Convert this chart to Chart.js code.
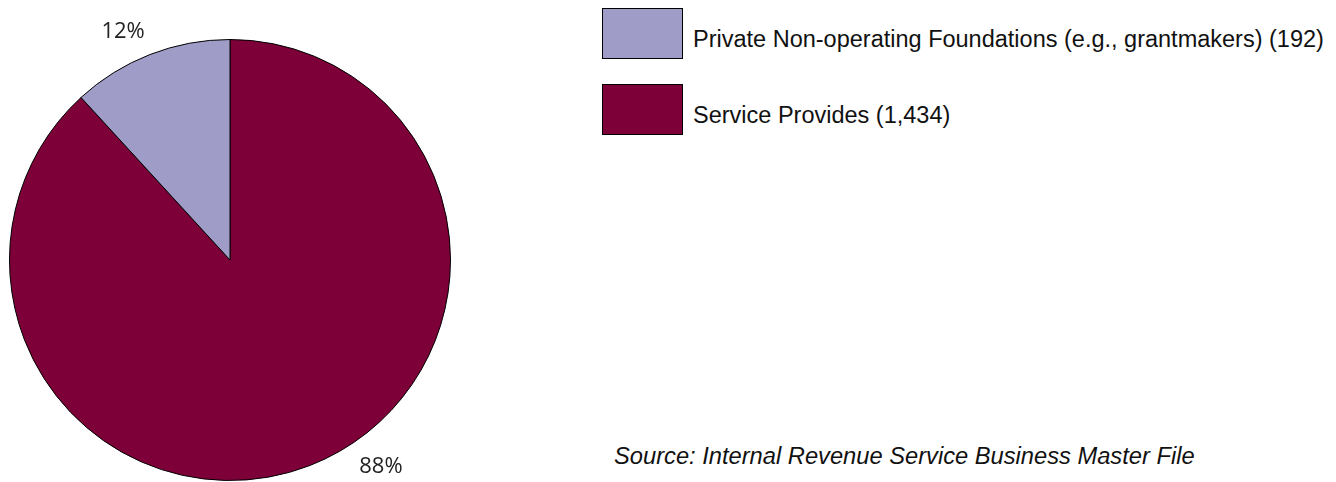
<!DOCTYPE html>
<html>
<head>
<meta charset="utf-8">
<script src="https://cdn.jsdelivr.net/npm/chart.js@4"></script>
<style>
  html, body { margin: 0; padding: 0; background: #fff; }
  body { width: 1336px; height: 482px; position: relative; overflow: hidden; font-family: "Liberation Sans", Arial, sans-serif; }
  #pieWrap { position: absolute; left: 0; top: 0; width: 460px; height: 482px; }
  .legend { position: absolute; left: 602px; }
  .legend .box { position: absolute; left: 0; top: 0; width: 79px; height: 49px; border: 1px solid #000; }
  .legend .txt { position: absolute; left: 91px; white-space: nowrap; font-size: 23.5px; line-height: 28px; color: #111; }
  #source { position: absolute; left: 614px; top: 442px; font-size: 23.7px; line-height: 28px; font-style: italic; color: #111; white-space: nowrap; }
</style>
</head>
<body>
<div id="pieWrap"><canvas id="orgChart"></canvas></div>
<div id="legend"></div>
<div id="source">Source: Internal Revenue Service Business Master File</div>

<script>
// organizations by type
const labels = ['Service Provides', 'Private Non-operating Foundations (e.g., grantmakers)'];
const counts = [1434, 192];
const colors = ['#7D0039', '#9F9DC8'];
// legend lists the foundations first
const legendOrder = [1, 0];

const total = counts.reduce((a, b) => a + b, 0);

// percentage labels placed just outside each slice
const pctLabels = {
    id: 'pctLabels',
    afterDatasetsDraw(chart, args, opts) {
        const ctx = chart.ctx;
        const meta = chart.getDatasetMeta(0);
        ctx.save();
        ctx.font = '22px "Open Sans", sans-serif';
        ctx.fillStyle = '#222';
        ctx.textAlign = 'center';
        ctx.textBaseline = 'middle';
        meta.data.forEach((arc, i) => {
            const mid = (arc.startAngle + arc.endAngle) / 2;
            const x = arc.x + Math.cos(mid) * arc.outerRadius + opts.shift[i][0];
            const y = arc.y + Math.sin(mid) * arc.outerRadius + opts.shift[i][1];
            const pct = Math.round(counts[i] / total * 100) + '%';
            ctx.fillText(pct, x, y);
        });
        ctx.restore();
    }
};

new Chart(document.getElementById('orgChart'), {
    type: 'pie',
    data: {
        labels: labels,
        datasets: [{
            data: counts,
            backgroundColor: colors,
            borderColor: '#000',
            borderWidth: 1
        }]
    },
    options: {
        responsive: true,
        maintainAspectRatio: false,
        animation: false,
        layout: { padding: { left: 9, right: 9, top: 39, bottom: 1 } },
        plugins: {
            legend: { display: false },
            tooltip: { enabled: false },
            pctLabels: { shift: [[71, 1], [-27, -23]] }
        }
    },
    plugins: [pctLabels]
});

// legend boxes + text
const legendEl = document.getElementById('legend');
legendOrder.forEach((i, n) => {
    const item = document.createElement('div');
    item.className = 'legend';
    item.style.top = (8 + n * 76) + 'px';
    item.innerHTML = '<div class="box" style="background:' + colors[i] + '"></div>' +
        '<div class="txt" style="top:17px">' + labels[i] + ' (' + counts[i].toLocaleString('en-US') + ')</div>';
    legendEl.appendChild(item);
});
</script>
</body>
</html>
